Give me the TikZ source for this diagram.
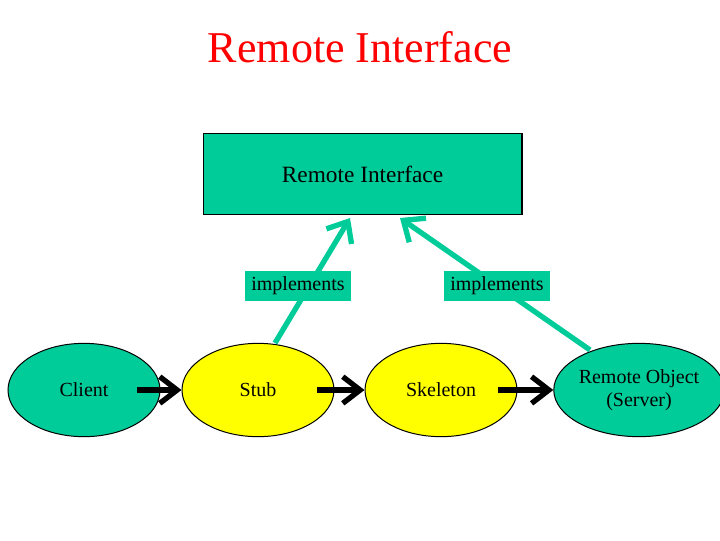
\documentclass[tikz,border=0pt]{standalone}
\usepackage{fontspec}
\setmainfont{Liberation Serif}
\usetikzlibrary{arrows.meta,shapes.geometric}
\definecolor{teal}{RGB}{0,204,153}
\definecolor{yel}{RGB}{255,255,0}
\begin{document}
\begin{tikzpicture}[x=0.75pt,y=0.75pt,yscale=-1,xscale=1,
  oval/.style={draw,ellipse,line width=0.75pt,minimum width=114pt,minimum height=70pt,inner sep=0pt,align=center,font=\fontsize{15}{17}\selectfont},
  impl/.style={line width=4pt,color=teal,-{Straight Barb[length=13pt,width=22pt,line width=4pt]}},
  flow/.style={line width=4pt,-{Straight Barb[length=13pt,width=20pt,line width=4pt]}},
  tag/.style={fill=teal,inner sep=0pt,minimum width=80pt,minimum height=23pt,font=\fontsize{15}{17}\selectfont}]
\useasboundingbox (0,0) rectangle (720,540);

%Title
\node (title) at (360,47) {\fontsize{33}{40}\selectfont\color{red}Remote Interface};
%Shape: Rectangle
\node (iface) [draw,fill=teal,line width=1pt,minimum width=239pt,minimum height=61pt,font=\fontsize{17.5}{20}\selectfont] at (362.5,174) {Remote Interface};

%Ovals
\node (client) [oval,fill=teal] at (84,390) {Client};
\node (stub) [oval,fill=yel] at (258,390) {Stub};
\node (skel) [oval,fill=yel] at (441,390) {Skeleton};
\node (server) [oval,fill=teal,minimum width=120pt] at (639,390) {Remote Object\\(Server)};

%Implements arrows
\coordinate (s1) at (275,343);
\coordinate (e1) at (350,218);
\coordinate (s2) at (590,350);
\coordinate (e2) at (400,218);
\draw [impl] (s1) -- (e1);
\draw [impl] (s2) -- (e2);
\node (imp1) [tag] at (298,286) {implements};
\node (imp2) [tag] at (497,286) {implements};

%Flow arrows
\coordinate (a1) at (137,390);
\coordinate (a2) at (317,390);
\coordinate (a3) at (498,390);
\draw [flow] (a1) -- (stub.west);
\draw [flow] (a2) -- (skel.west);
\draw [flow] (a3) -- (server.west);
\end{tikzpicture}
\end{document}
